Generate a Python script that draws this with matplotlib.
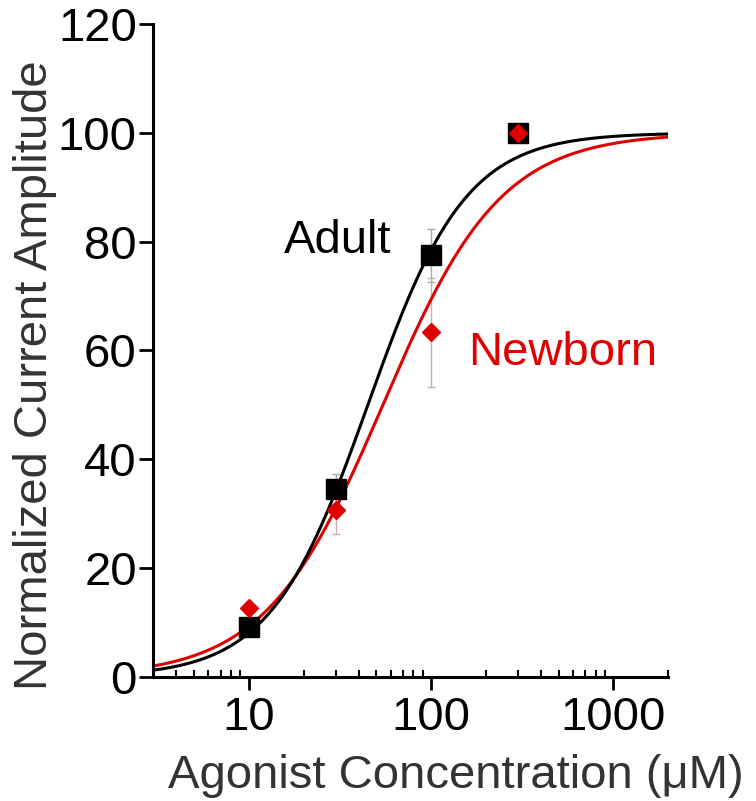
import numpy as np
import matplotlib
matplotlib.use("Agg")
import matplotlib.pyplot as plt
from matplotlib.ticker import FixedLocator, NullFormatter

# ---- data ----
conc = [10, 30, 100, 300]
adult_mean = [9.2, 34.5, 77.5, 100.0]
adult_sem = [1.0, 2.8, 4.9, 0.0]
newborn_mean = [12.7, 30.6, 63.3, 100.0]
newborn_sem = [1.0, 4.4, 10.0, 0.0]

# Hill-fit parameters (EC50 in uM, Hill coefficient)
adult_ec50, adult_hill = 45.0, 1.62
newborn_ec50, newborn_hill = 54.4, 1.344

x_ticks = [10, 100, 1000]
x_tick_labels = ["10", "100", "1000"]
x_minor = [4, 5, 6, 7, 8, 9, 20, 30, 40, 50, 60, 70, 80, 90,
           200, 300, 400, 500, 600, 700, 800, 900, 2000]
y_ticks = [0, 20, 40, 60, 80, 100, 120]

RED = "#e00000"

plt.rcParams["font.family"] = ["Liberation Sans", "DejaVu Sans"]

fig = plt.figure(figsize=(7.56, 8.01), dpi=100)
ax = fig.add_axes([0.203, 0.155, 0.681, 0.815])

xfit = np.logspace(np.log10(3), np.log10(2000), 400)
def hill(x, ec50, n):
    return 100.0 / (1.0 + (ec50 / x) ** n)

ax.plot(xfit, hill(xfit, newborn_ec50, newborn_hill), color=RED, lw=2.2, zorder=2)
ax.plot(xfit, hill(xfit, adult_ec50, adult_hill), color="black", lw=2.2, zorder=3)

ax.errorbar(conc, adult_mean, yerr=adult_sem, fmt="none", ecolor="#a8a8a8",
            elinewidth=1.0, capsize=3, capthick=1.0, zorder=1)
ax.errorbar(conc, newborn_mean, yerr=newborn_sem, fmt="none", ecolor="#c8b0b0",
            elinewidth=1.0, capsize=3, capthick=1.0, zorder=1)

ax.plot(conc, adult_mean, "s", color="black", ms=14, zorder=4)
ax.plot(conc, newborn_mean, "D", color=RED, ms=9.5, mec=RED, zorder=5)

ax.set_xscale("log")
ax.set_xlim(3, 2000)
ax.set_ylim(0, 120)

for s in ["top", "right"]:
    ax.spines[s].set_visible(False)
for s in ["left", "bottom"]:
    ax.spines[s].set_linewidth(2.2)

ax.xaxis.set_major_locator(FixedLocator(x_ticks))
ax.set_xticklabels(x_tick_labels)
ax.xaxis.set_minor_locator(FixedLocator(x_minor))
ax.xaxis.set_minor_formatter(NullFormatter())
ax.set_yticks(y_ticks)

ax.tick_params(axis="x", which="major", direction="out", length=9, width=2,
               labelsize=34, pad=5)
ax.tick_params(axis="x", which="minor", direction="in", length=5, width=1.5)
ax.tick_params(axis="y", which="major", direction="out", length=10, width=2,
               labelsize=34, pad=2)

ax.text(15.6, 77.9, "Adult", fontsize=34, color="black", va="baseline", ha="left")
ax.text(159.6, 57.4, "Newborn", fontsize=34, color=RED, va="baseline", ha="left")

fig.text(0.222, 0.016, "Agonist Concentration (\u03bcM)", fontsize=34,
         color="#333333", va="baseline", ha="left")
fig.text(0.046, 0.532, "Normalized Current Amplitude", fontsize=34,
         color="#333333", rotation=90, va="center", ha="center")

fig.savefig("out.png", dpi=100)
